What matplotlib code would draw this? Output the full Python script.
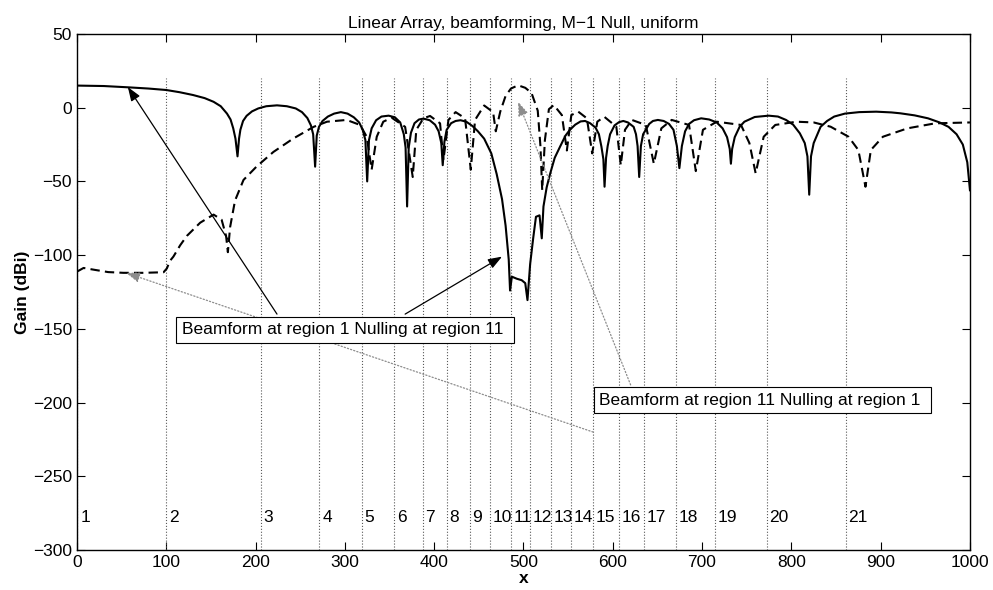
import numpy as np
import matplotlib.pyplot as plt

plt.rcParams['font.family'] = ['Liberation Sans', 'DejaVu Sans']
plt.rcParams['font.size'] = 12.5

#########################################################################
# Curva solida: beamform en region 1, null en region 11
x_sol = [0, 30, 58, 80, 100, 115, 130, 143, 153, 161, 168, 172, 175, 177.5, 179.8, 181.5, 183, 186, 190, 196,
         203, 212, 224, 235, 245, 252, 258, 262, 264.5, 266.7, 268.5, 271, 275, 281, 288, 295.5, 303, 310, 316, 320,
         323, 325, 327, 330, 335, 341, 349, 356, 362, 366, 368, 369.7, 371.5, 374, 378, 383, 388, 395, 401, 405,
         408, 409.6, 411.5, 414, 419, 424, 429.5, 436, 443, 449, 456, 464, 470, 476, 480, 483.5, 485, 487, 492.5, 498,
         502, 504.5, 507.5, 511, 514, 518, 520.5, 522.4, 526, 530, 535, 541, 547, 552, 558, 564, 569, 574.6, 580.7, 584.5,
         587.3, 589.5, 590.8, 592.5, 594.3, 597, 602, 607, 611.8, 617, 623.4, 626, 627.8, 629.6, 631.5, 634, 640.8, 645,
         650.5, 657, 663, 668, 671.8, 674.6, 677.4, 681, 685.4, 691, 699, 708, 716.4, 723, 728, 731, 732.3, 733.7,
         736.6, 742, 747.4, 759, 774.6, 785, 794, 802, 809.5, 815, 818, 820, 822, 825, 832.7, 840, 848, 860,
         876, 895, 912, 922, 938, 953, 966, 976, 985, 992, 997, 1000]
g_sol = [15, 14.7, 13.8, 13, 12, 10.5, 8.6, 6.5, 4, 1, -4, -8, -14, -21, -33, -21, -15, -9, -5.5, -2.5,
         -0.5, 1, 1.6, 1, -0.5, -3, -7, -12, -18, -40, -19, -13, -9, -6, -4, -3, -4, -6.5, -10, -15,
         -22, -50, -22, -14, -8.5, -6, -5.4, -6.5, -10, -18, -27, -67, -27, -17, -10.5, -8, -7.4, -8.5, -11.5, -16,
         -24, -39, -23, -15, -10.5, -9, -8.5, -9.5, -12.5, -16, -21, -31, -45, -62, -80, -103, -124, -114.6, -116, -117,
         -119, -130.5, -106, -88, -74, -73, -88.6, -67, -54, -44.5, -34, -26.4, -19, -15, -11.5, -9.3, -9, -10.5, -13.5, -18,
         -26.4, -35, -53.6, -34, -26, -18, -12, -9.8, -9, -10, -13, -18, -26, -47, -26, -18, -11, -9,
         -8.3, -9, -11, -15, -26, -41, -26, -16, -11, -8.5, -7.2, -8, -10, -14, -20, -28, -38, -28,
         -20, -13, -9.5, -6.3, -5.4, -6, -8.3, -11.5, -17.4, -24, -33, -59, -33, -24, -13, -9, -6, -4,
         -3, -2.7, -3.2, -3.8, -5.2, -7.2, -10, -13, -18, -25, -37, -56]

# Curva segmentada: beamform en region 11, null en region 1
x_das = [0, 7.4, 20, 35, 52, 75, 97, 100.7, 104, 108, 115.6, 123, 138, 153, 162, 167, 169, 171.5, 177, 186.5,
         201, 220, 242, 265, 280, 302, 317, 324.5, 330, 335.7, 343, 352.5, 367.5, 376, 380, 388, 395.4, 406.6, 410.4, 416,
         424, 434.6, 441, 445.8, 456, 466, 469, 474, 480, 486, 494, 502, 509, 516, 519, 521, 524, 528.5, 534, 543,
         548.6, 553.6, 561.4, 571, 577, 582.7, 590.4, 604, 609, 613.7, 621.4, 637, 646, 654.4, 666, 685.4, 693, 701, 716.4, 743.6,
         753, 760, 769, 782, 805.6, 825, 844, 864, 875, 883, 889, 902.5, 930, 961, 1000]
g_das = [-111.2, -108.7, -110, -111.5, -112, -112, -111.6, -109, -104, -101, -93.3, -87, -78, -72.5, -76, -87, -98, -81, -63, -49,
         -40, -30, -21, -13, -9.5, -8.3, -11.7, -19.7, -42, -19.7, -9.5, -6.8, -13, -47, -15, -7.2, -5.6, -10.6, -35.5, -8.3,
         -3, -7.2, -42, -8.3, 1.5, -3, -16, -2.7, 8, 13, 15.2, 13.5, 10, -2, -26, -56, -22, -1, 1.8, -5,
         -29, -5, -2.7, -7.2, -31, -9.5, -6.1, -12.9, -39, -15, -8.3, -11.7, -38, -14, -8.3, -11.7, -43, -15, -9.5, -11.7,
         -24, -44.5, -19.7, -11.7, -9.5, -10, -12.9, -19.7, -28.7, -53.6, -28.7, -19.7, -14, -10.6, -10]

# Limites de regiones (lineas punteadas) y etiquetas
bordes = [0, 100, 205.6, 271.6, 319, 355, 387, 414, 440, 462.7, 485.8, 507, 530.5, 553.7, 578.3, 607, 635,
          670.5, 714.5, 772.4, 860.9]
regiones = [str(i + 1) for i in range(len(bordes))]

#########################################################################
fig = plt.figure(figsize=(9.93, 5.9), dpi=100)
ax = fig.add_axes([0.0775, 0.0678, 0.8993, 0.8746])

for b in bordes:
    ax.plot([b, b], [-300, 20], ':', color='0.35', lw=0.8)
for b, r in zip(bordes, regiones):
    ax.text(b + (4 if b == 0 else 3), -278, r, ha='left', va='center')

ax.plot(x_sol, g_sol, '-', color='k', lw=1.5)
ax.plot(x_das, g_das, '--', color='k', lw=1.5, dashes=(4.5, 2.5))

# Anotaciones (estilo textarrow)
flecha = dict(arrowstyle='-|>,head_length=0.6,head_width=0.22', color='k', lw=0.9,
              shrinkA=0, shrinkB=0, mutation_scale=14)
ax.annotate('', xy=(57, 14), xytext=(224, -140), arrowprops=flecha)
ax.annotate('', xy=(476, -101), xytext=(367.5, -140), arrowprops=flecha)
ax.text(117.5, -150.5, 'Beamform at region 1 Nulling at region 11 ', ha='left', va='center',
        bbox=dict(boxstyle='square,pad=0.32', fc='white', ec='k', lw=0.8), zorder=5)

flecha2 = dict(arrowstyle='-|>,head_length=0.6,head_width=0.22', color='0.55', lw=0.9, ls=':',
               shrinkA=0, shrinkB=0, mutation_scale=14)
ax.annotate('', xy=(494, 4), xytext=(620, -188), arrowprops=flecha2)
ax.annotate('', xy=(55, -112), xytext=(578, -220), arrowprops=flecha2)
ax.text(585, -198.5, 'Beamform at region 11 Nulling at region 1 ', ha='left', va='center',
        bbox=dict(boxstyle='square,pad=0.32', fc='white', ec='k', lw=0.8), zorder=5)

ax.set_xlim(0, 1000)
ax.set_ylim(-300, 50)
ax.set_xticks(np.arange(0, 1001, 100))
ax.set_yticks(np.arange(-300, 51, 50))
ax.tick_params(direction='in', length=6, width=0.8, top=True, right=True)
for s in ax.spines.values():
    s.set_linewidth(1.0)
ax.set_title('Linear Array, beamforming, M\u22121 Null, uniform', fontsize=12.5, pad=4)
ax.set_xlabel('x', fontweight='bold', labelpad=1)
ax.set_ylabel('Gain (dBi)', fontweight='bold', labelpad=2)

plt.savefig('out.png', dpi=100)
